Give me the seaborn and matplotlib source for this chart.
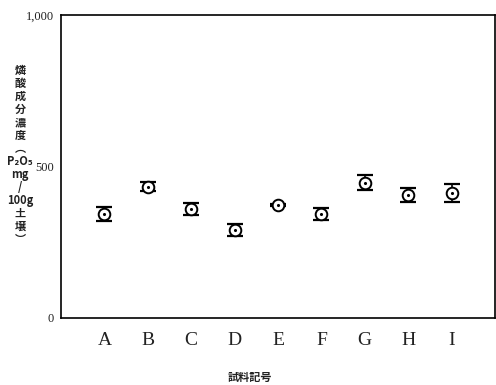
import matplotlib
matplotlib.use("Agg")
import matplotlib.pyplot as plt
import seaborn as sns
import pandas as pd

categories = ["A", "B", "C", "D", "E", "F", "G", "H", "I"]
means = [342, 433, 360, 290, 373, 344, 447, 407, 413]
errors = [23, 15, 20, 19, 4, 20, 25, 23, 29]
y_ticks = [0, 500, 1000]
y_tick_labels = ["0", "500", "1,000"]

sns.set_theme(style="white")
plt.rcParams["font.family"] = ["Noto Sans CJK JP", "DejaVu Sans"]

df = pd.DataFrame({"cat": categories, "mean": means, "err": errors})

fig = plt.figure(figsize=(4.96, 3.85), dpi=100)
ax = fig.add_axes([61 / 496, 1 - 318 / 385, (495 - 61) / 496, (318 - 15) / 385])

# markers via seaborn (categorical x -> positions 0..8)
sns.scatterplot(data=df, x="cat", y="mean", ax=ax, marker="o", s=70,
                facecolor="white", edgecolor="black", linewidth=1.4, zorder=4)
sns.scatterplot(data=df, x="cat", y="mean", ax=ax, marker="o", s=5,
                color="black", edgecolor="black", linewidth=0, zorder=5)

xpos = list(range(len(categories)))
ax.errorbar(xpos, df["mean"], yerr=df["err"], fmt="none", ecolor="black",
            elinewidth=1.2, capsize=6, capthick=1.6, zorder=3)

ax.set_xlim(-1, 9)
ax.set_ylim(0, 1000)
ax.set_xticks(xpos)
ax.set_xticklabels(categories, family=["Liberation Serif", "DejaVu Serif"], fontsize=14)
ax.set_yticks(y_ticks)
ax.set_yticklabels(y_tick_labels, family=["Liberation Serif", "DejaVu Serif"], fontsize=9)
ax.tick_params(axis="x", direction="in", length=6, width=1.2, pad=10, colors="black")
ax.tick_params(axis="y", direction="in", length=6, width=1.2, pad=5, colors="black")
for t in ax.get_xticklabels() + ax.get_yticklabels():
    t.set_color("#222222")
for s in ax.spines.values():
    s.set_linewidth(1.2)
    s.set_color("black")
ax.set_xlabel("")
ax.set_ylabel("")

fig.text(250 / 496, 1 - 377 / 385, "試料記号", ha="center", va="center",
         fontsize=8, fontweight="bold", color="#222222")

ylabel = "燐\n酸\n成\n分\n濃\n度\n︵\nP₂O₅\nmg\n/\n100g\n土\n壌\n︶"
fig.text(20 / 496, 1 - 155 / 385, ylabel, ha="center", va="center",
         fontsize=8, fontweight="bold", color="#222222", linespacing=1.0,
         family=["Noto Sans CJK JP", "DejaVu Sans"])

fig.savefig("out.png", dpi=100)
